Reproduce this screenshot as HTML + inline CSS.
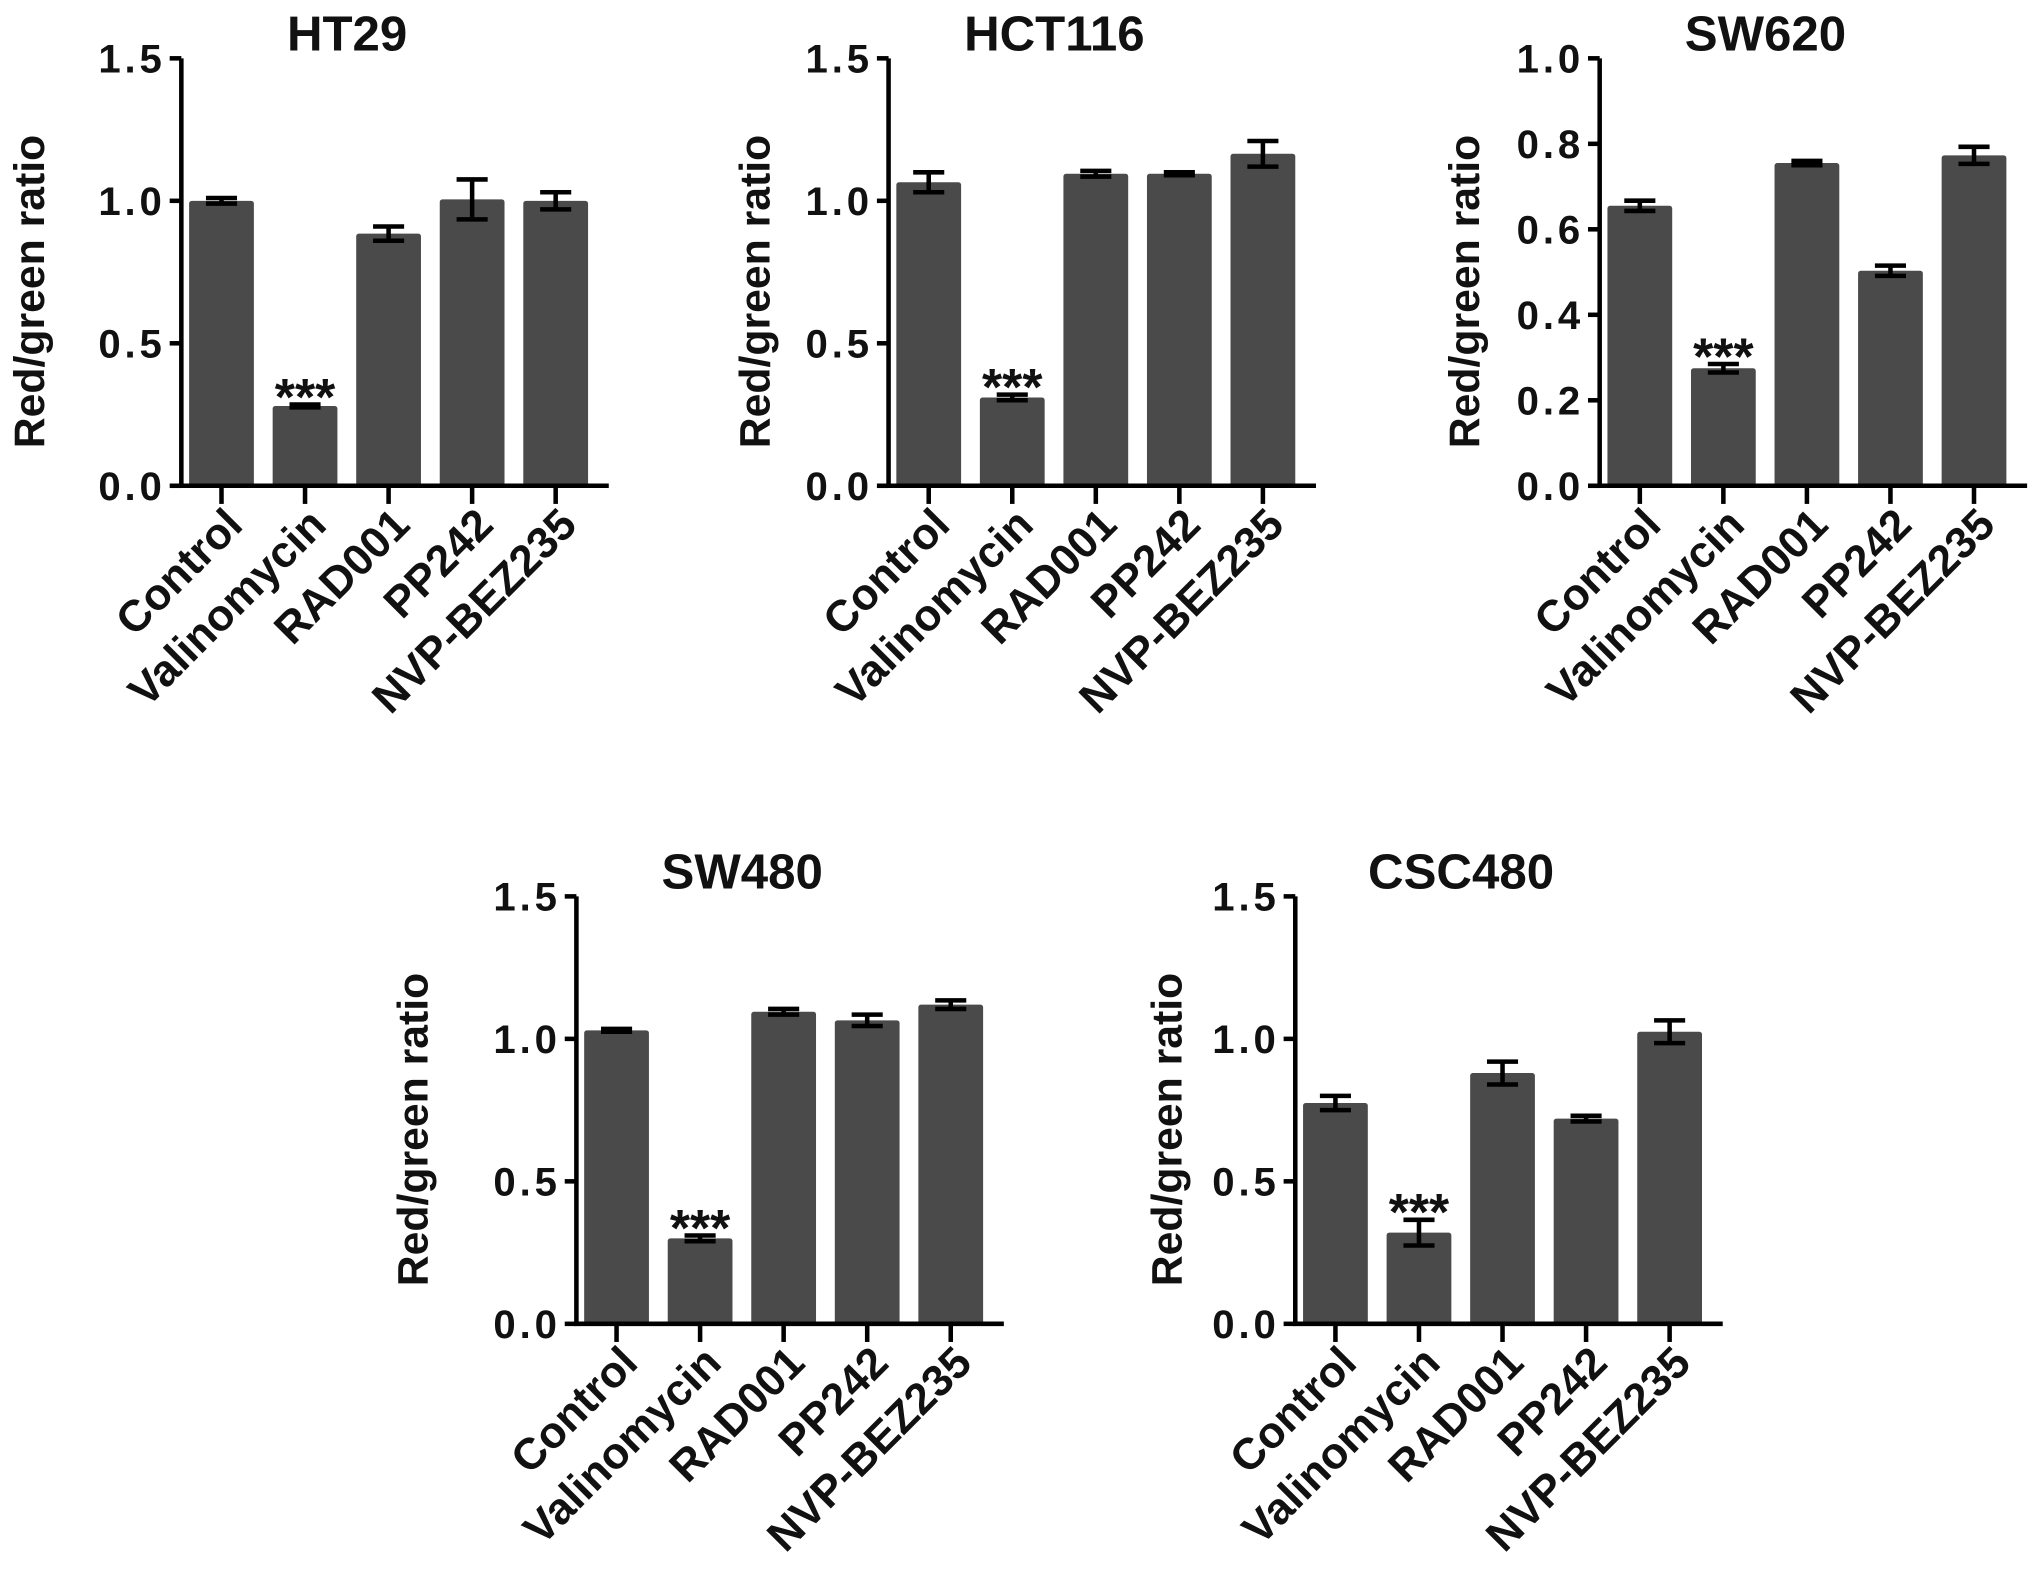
<!DOCTYPE html>
<html><head><meta charset="utf-8"><style>
html,body{margin:0;padding:0;background:#fff}
svg{display:block}
text{font-family:"Liberation Sans",Arial,sans-serif;font-weight:bold;fill:#111}
</style></head><body>
<svg id="fig" width="2031" height="1592" viewBox="0 0 1568 1229" xmlns="http://www.w3.org/2000/svg"></svg>
<script>
const categories = ["Control","Valinomycin","RAD001","PP242","NVP-BEZ235"];
const ht29Values = [1.0,0.28,0.885,1.005,1.0];
const ht29Errors = [0.01,0.005,0.025,0.07,0.03];
const hct116Values = [1.065,0.31,1.095,1.095,1.165];
const hct116Errors = [0.035,0.01,0.01,0.005,0.045];
const sw620Values = [0.655,0.275,0.755,0.503,0.773];
const sw620Errors = [0.012,0.01,0.005,0.012,0.02];
const sw480Values = [1.03,0.30,1.095,1.065,1.12];
const sw480Errors = [0.005,0.01,0.01,0.02,0.015];
const csc480Values = [0.775,0.32,0.88,0.72,1.025];
const csc480Errors = [0.025,0.045,0.04,0.01,0.04];
const ticks15 = [0,0.5,1.0,1.5];
const ticks10 = [0,0.2,0.4,0.6,0.8,1.0];
const panels = [
 {name:"HT29",vals:ht29Values,errs:ht29Errors,ticks:ticks15,max:1.5,x0:140,y0:375,ylx:22},
 {name:"HCT116",vals:hct116Values,errs:hct116Errors,ticks:ticks15,max:1.5,x0:686,y0:375,ylx:582},
 {name:"SW620",vals:sw620Values,errs:sw620Errors,ticks:ticks10,max:1.0,x0:1235,y0:375,ylx:1130},
 {name:"SW480",vals:sw480Values,errs:sw480Errors,ticks:ticks15,max:1.5,x0:445,y0:1022,ylx:318},
 {name:"CSC480",vals:csc480Values,errs:csc480Errors,ticks:ticks15,max:1.5,x0:1000,y0:1022,ylx:900}
];
const NS="http://www.w3.org/2000/svg";
const svg=document.getElementById('fig');
function mk(tag,attrs,parent){const e=document.createElementNS(NS,tag);for(const k in attrs)e.setAttribute(k,attrs[k]);(parent||svg).appendChild(e);return e;}
panels.forEach(p=>{
 const g=mk('g',{});
 
 
 const H=330, step=64.5, bw=50;
 const yS=v=>p.y0-v/p.max*H;
 const xS=i=>p.x0+31+i*step;
 const t=mk('text',{x:p.x0+128,y:p.y0-336,'font-size':38,'text-anchor':'middle'},g);t.textContent=p.name;
 
 
 const yl=mk('text',{x:0,y:0,'font-size':33,'text-anchor':'middle',transform:`translate(${p.ylx+12},${p.y0-150}) rotate(-90)`},g);yl.textContent="Red/green ratio";
 
 
 p.vals.forEach((v,i)=>{
  const cx=xS(i);
  const r=mk('rect',{x:cx-bw/2,y:yS(v),width:bw,height:p.y0-yS(v),fill:'#4a4a4a',rx:2},g);
  
  
  const e=p.errs[i],yt=yS(v+e),yb=yS(v-e);
  const eb=mk('path',{d:`M${cx-12},${yt}H${cx+12}M${cx},${yt}V${yb}M${cx-12},${yb}H${cx+12}`,stroke:'#000','stroke-width':3.5,fill:'none'},g);
  
  
  const tk=mk('line',{x1:cx,x2:cx,y1:p.y0,y2:p.y0+14,stroke:'#000','stroke-width':3.5},g);
  
  
  const lb=mk('text',{x:0,y:0,'font-size':34,'text-anchor':'end',transform:`translate(${cx+18},${p.y0+32}) rotate(-45)`},g);lb.textContent=categories[i];
  
  
  if(i===1){const s=mk('text',{x:cx,y:yS(v+e)+8,'font-size':40,'text-anchor':'middle'},g);s.textContent="***";
   
   }
 });
 p.ticks.forEach(tv=>{
  const y=yS(tv);
  const tl=mk('line',{x1:p.x0-9,x2:p.x0,y1:y,y2:y,stroke:'#000','stroke-width':3.5},g);
  
  
  const tt=mk('text',{x:p.x0-12,y:y+11,'font-size':31,'text-anchor':'end','letter-spacing':3},g);tt.textContent=tv.toFixed(1);
  
  
 });
 const ax=mk('path',{d:`M${p.x0},${p.y0-H}V${p.y0}H${p.x0+330}`,stroke:'#000','stroke-width':3.5,fill:'none'},g);
 
 
});
</script>
</body></html>
